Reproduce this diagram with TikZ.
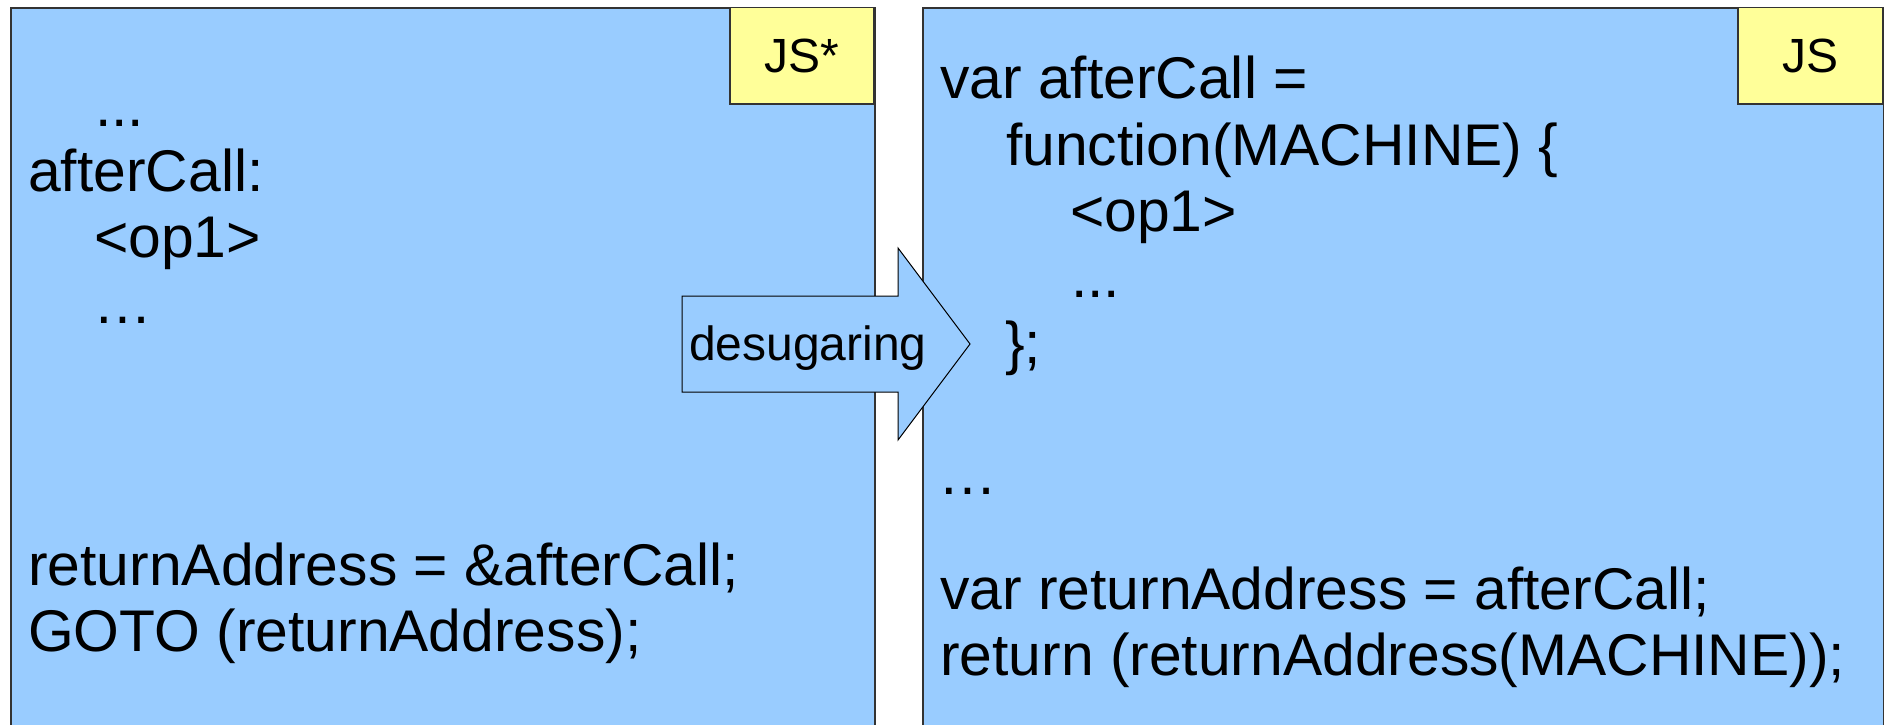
\documentclass[tikz,border=0pt]{standalone}
\usepackage{fontspec}
\setmainfont{Liberation Sans}
\definecolor{panel}{RGB}{153,204,255}
\definecolor{tag}{RGB}{255,255,153}
\definecolor{edge}{RGB}{51,51,51}
\begin{document}
\begin{tikzpicture}[x=1pt,y=-1pt,
  panelbox/.style={fill=panel,draw=edge,line width=1.5pt,inner sep=0pt,anchor=north west},
  tagbox/.style={fill=tag,draw=edge,line width=1.5pt,inner sep=0pt,
    font=\fontsize{48}{56}\selectfont},
  code/.style={anchor=base west,inner sep=0pt,font=\fontsize{58.8}{66}\selectfont},
  flowarrow/.style={fill=panel,draw=black,line width=1pt,line join=miter},
]
\useasboundingbox (0,0) rectangle (1884,725);
\clip (0,0) rectangle (1884,725);
\fill[white] (0,0) rectangle (1884,725);

% the two code panels (they run past the lower and right edges)
\node[panelbox,minimum width=864pt,minimum height=740pt] (src) at (10,7.5) {};
\node[panelbox,minimum width=961pt,minimum height=740pt] (dst) at (922,7.5) {};

% language tags in the upper right corners
\node[tagbox,minimum width=144pt,minimum height=96.5pt] (srctag) at (802,55.75) {JS*};
\node[tagbox,minimum width=145pt,minimum height=96.5pt] (dsttag) at (1810.5,55.75) {JS};

% source program
\node[code] (s1) at (95,126) {...};
\node[code] (s2) at (28,191) {afterCall:};
\node[code] (s3) at (94,257) {<op1>};
\node[code] (s4) at (93,323) {…};
\node[code] (s5) at (28,585) {returnAddress = \&afterCall;};
\node[code] (s6) at (28,651) {GOTO (returnAddress);};

% desugared program
\node[code] (t1) at (940,99) {var afterCall =};
\node[code] (t2) at (1006,165) {function(MACHINE) \{};
\node[code] (t3) at (1070,231) {<op1>};
\node[code] (t4) at (1071,297) {...};
\node[code] (t5) at (1005,363) {\};};
\node[code] (t6) at (938,494) {…};
\node[code] (t7) at (940,609) {var returnAddress = afterCall;};
\node[code] (t8) at (940,675) {return (returnAddress(MACHINE));};

% block arrow between the panels
\draw[flowarrow] (682,296) -- (898,296) -- (898,248) -- (970,344)
  -- (898,440) -- (898,392) -- (682,392) -- cycle;
\node[anchor=base west,inner sep=0pt,font=\fontsize{48}{56}\selectfont]
  (label) at (689,360) {desugaring};
\end{tikzpicture}
\end{document}
